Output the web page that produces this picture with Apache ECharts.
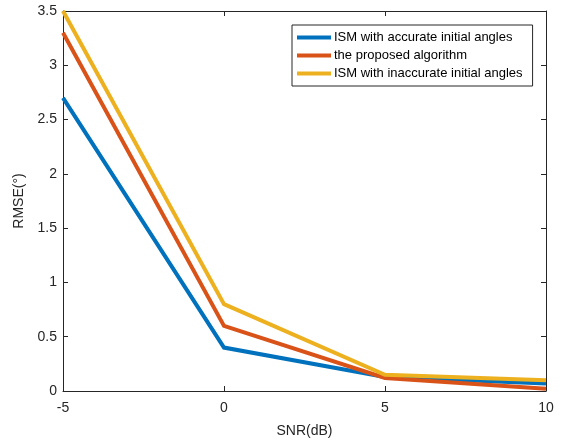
<!DOCTYPE html>
<html><head><meta charset="utf-8">
<script src="https://cdn.jsdelivr.net/npm/echarts@6/dist/echarts.min.js"></script>
<style>html,body{margin:0;padding:0;background:#fff}#c{width:565px;height:443px}</style>
</head><body><div id="c"></div>
<script>
const snr = [-5, 0, 5, 10];
const accurate = [2.7, 0.4, 0.13, 0.07];
const proposed = [3.3, 0.6, 0.12, 0.02];
const inaccurate = [3.5, 0.8, 0.15, 0.10];
const names = ['ISM with accurate initial angles', 'the proposed algorithm', 'ISM with inaccurate initial angles'];
const colors = ['#0072BD', '#D95319', '#EDB120'];
const toPts = (ys) => snr.map((x, i) => [x, ys[i]]);
const font = 'Liberation Sans, Arial, sans-serif';
const tc = '#262626';
const chart = echarts.init(document.getElementById('c'));
const axBase = () => ({
  axisLine: {show: true, onZero: false, lineStyle: {color: tc, width: 1}},
  axisTick: {show: true, inside: true, length: 5, lineStyle: {color: tc}},
  splitLine: {show: false},
});
chart.setOption({
  animation: false,
  backgroundColor: '#fff',
  grid: {left: 63, right: 19, top: 11, bottom: 50, containLabel: false},
  legend: {
    orient: 'vertical', left: 292, top: 25,
    data: names,
    itemWidth: 34, itemHeight: 4, itemGap: 5,
    padding: [6, 10, 6, 5],
    borderColor: tc, borderWidth: 1, backgroundColor: '#fff',
    textStyle: {fontFamily: font, fontSize: 13, color: '#000', padding: [0, 0, 0, -2]},
    icon: 'rect'
  },
  xAxis: [
    Object.assign(axBase(), {
      type: 'value', min: -5, max: 10, interval: 5, position: 'bottom',
      name: 'SNR(dB)', nameLocation: 'middle', nameGap: 33,
      nameTextStyle: {fontFamily: font, fontSize: 14, color: tc},
      axisLabel: {fontFamily: font, fontSize: 14, color: tc, margin: 10}
    }),
    Object.assign(axBase(), {
      type: 'value', min: -5, max: 10, interval: 5, position: 'top',
      axisLabel: {show: false}
    })
  ],
  yAxis: [
    Object.assign(axBase(), {
      type: 'value', min: 0, max: 3.5, interval: 0.5, position: 'left',
      name: 'RMSE(°)', nameLocation: 'middle', nameGap: 28,
      nameTextStyle: {fontFamily: font, fontSize: 14, color: tc},
      axisLabel: {fontFamily: font, fontSize: 14, color: tc, margin: 6}
    }),
    Object.assign(axBase(), {
      type: 'value', min: 0, max: 3.5, interval: 0.5, position: 'right',
      axisLabel: {show: false}
    })
  ],
  series: [accurate, proposed, inaccurate].map((d, i) => ({
    name: names[i], type: 'line', data: toPts(d),
    xAxisIndex: 0, yAxisIndex: 0,
    showSymbol: false, symbol: 'none',
    lineStyle: {color: colors[i], width: 4, join: 'miter'},
    itemStyle: {color: colors[i]}
  }))
});
</script></body></html>
